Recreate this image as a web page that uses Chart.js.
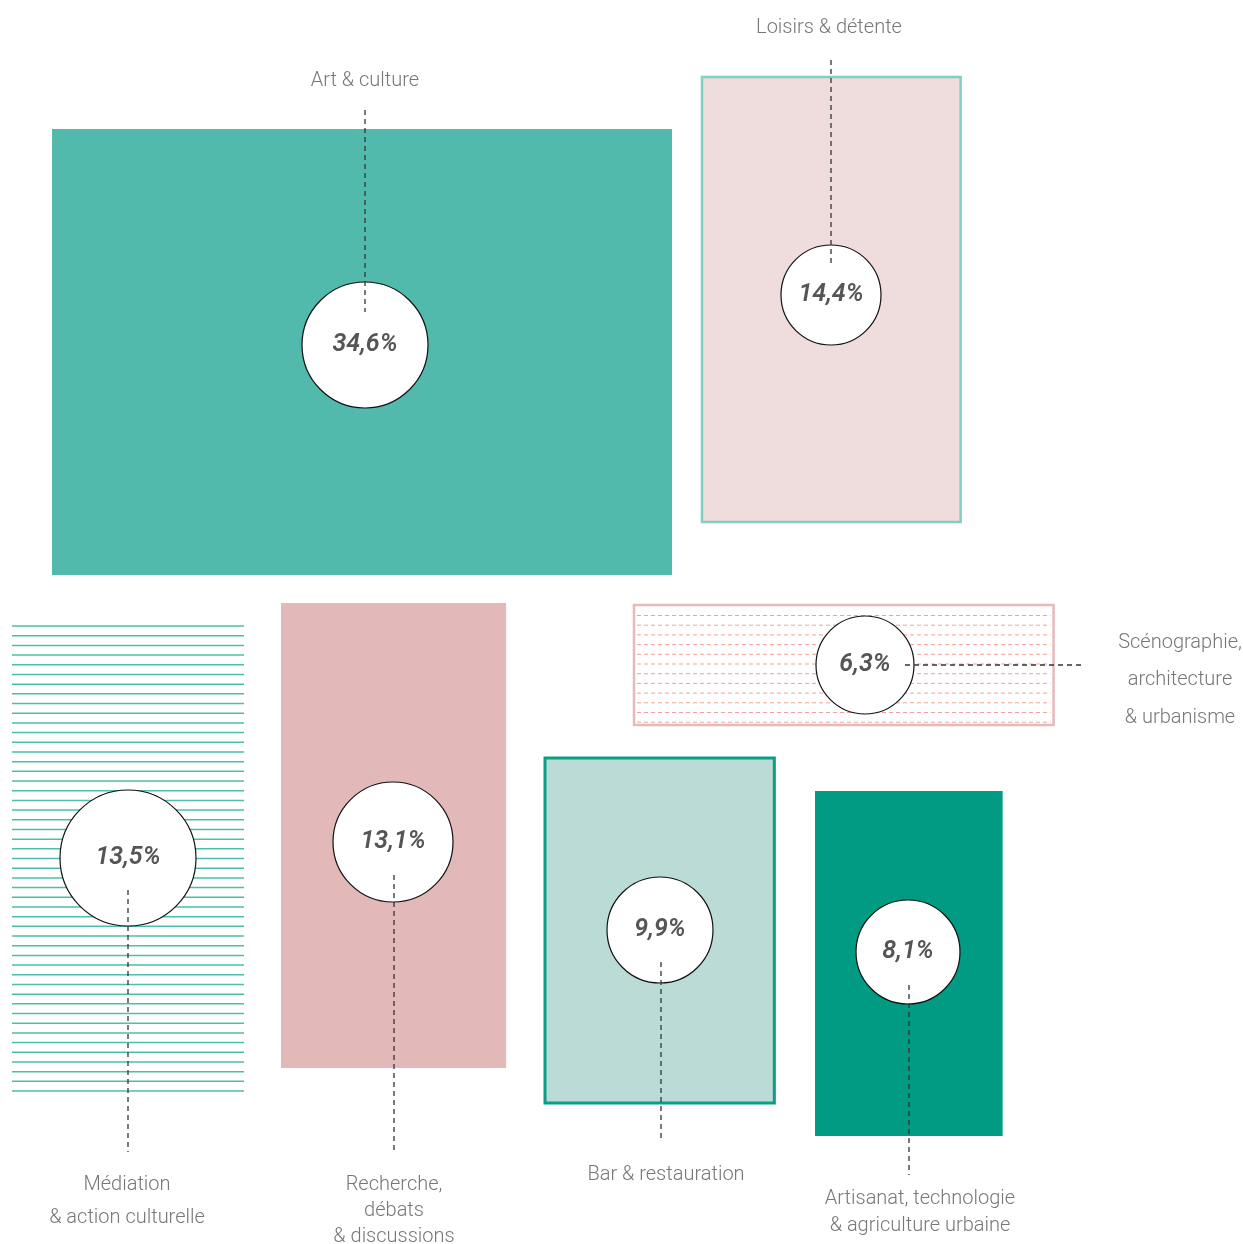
<!DOCTYPE html>
<html>
<head>
<meta charset="utf-8">
<script src="https://cdn.jsdelivr.net/npm/chart.js@4/dist/chart.umd.min.js"></script>
<style>
html,body{margin:0;padding:0;background:#fff;}
#wrap{width:1243px;height:1244px;position:relative;}
</style>
</head>
<body>
<div id="wrap"><canvas id="c"></canvas></div>
<script>
// ---- DATA ----
const categories = ['Art & culture','Loisirs & détente','Scénographie, architecture & urbanisme','Médiation & action culturelle','Recherche, débats & discussions','Bar & restauration','Artisanat, technologie & agriculture urbaine'];
const labelLines = [['Art & culture'],['Loisirs & détente'],['Scénographie,','architecture','& urbanisme'],['Médiation','& action culturelle'],['Recherche,','débats','& discussions'],['Bar & restauration'],['Artisanat, technologie','& agriculture urbaine']];
const shares = [34.6, 14.4, 6.3, 13.5, 13.1, 9.9, 8.1];

// ---- LAYOUT (plot units, 1243 x 1244 frame) ----
const AREA_PER_PCT = 7992;           // rectangle area per percentage point
const rectLeft   = [52, 702, 634, 12, 281, 545, 815];
const rectTop    = [129, 77, 605, 626, 603, 758, 791];
const rectHeight = [446, 445, 120, 465, 465, 345, 345];
const circleX = [365, 831, 865, 128, 393, 660, 908];
const circleY = [345, 295, 665, 858, 842, 930, 952];
const circleR = [63, 50, 49, 68, 60, 53, 52];
const leaders = [[365,110,365,312],[831,60,831,265],[905,665,1083,665],[128,890,128,1152],[394,875,394,1152],[661,962,661,1142],[909,985,909,1175]];
const labelX = [365, 829, 1180, 127, 394, 666, 920];
const labelY = [[79],[26],[641,678,716],[1183,1216],[1183,1209,1235],[1173],[1197,1224]];
const styles = [
  {fill:'#52baad'},
  {fill:'#efdcdd', stroke:'#80cfc1', sw:2.5},
  {fill:'#ffffff', stroke:'#e6b9ba', sw:2.5, dashLines:'#f4a195'},
  {hatch:'#4dbfa9'},
  {fill:'#e2b8b9'},
  {fill:'#badbd6', stroke:'#0a9e85', sw:3},
  {fill:'#009b82'}
];

const rectPlugin = {
  id:'rects',
  beforeDatasetsDraw(chart){
    const ctx = chart.ctx, X = chart.scales.x, Y = chart.scales.y;
    shares.forEach((v,i)=>{
      const w = v*AREA_PER_PCT/rectHeight[i];
      const x0 = X.getPixelForValue(rectLeft[i]), x1 = X.getPixelForValue(rectLeft[i]+w);
      const y0 = Y.getPixelForValue(rectTop[i]), y1 = Y.getPixelForValue(rectTop[i]+rectHeight[i]);
      const s = styles[i];
      ctx.save();
      if (s.fill){ ctx.fillStyle = s.fill; ctx.fillRect(x0,y0,x1-x0,y1-y0); }
      if (s.hatch){
        ctx.strokeStyle = s.hatch; ctx.lineWidth = 1.5;
        const n = 49, step = (y1-y0)/(n-1);
        for(let k=0;k<n;k++){ const yy = y0+k*step; ctx.beginPath(); ctx.moveTo(x0,yy); ctx.lineTo(x1,yy); ctx.stroke(); }
      }
      if (s.dashLines){
        ctx.strokeStyle = s.dashLines; ctx.lineWidth = 1; ctx.setLineDash([4,3]);
        const step = 9.7;
        for(let yy=y0+10.5; yy<y1-1; yy+=step){ ctx.beginPath(); ctx.moveTo(x0+3,yy); ctx.lineTo(x1-3,yy); ctx.stroke(); }
        ctx.setLineDash([]);
      }
      if (s.stroke){ ctx.strokeStyle = s.stroke; ctx.lineWidth = s.sw; ctx.strokeRect(x0,y0,x1-x0,y1-y0); }
      ctx.restore();
    });
  },
  afterDatasetsDraw(chart){
    const ctx = chart.ctx, X = chart.scales.x, Y = chart.scales.y;
    ctx.save();
    // leaders
    ctx.strokeStyle = '#333'; ctx.lineWidth = 1.3; ctx.setLineDash([5,4]);
    leaders.forEach(l=>{
      ctx.beginPath();
      ctx.moveTo(X.getPixelForValue(l[0]), Y.getPixelForValue(l[1]));
      ctx.lineTo(X.getPixelForValue(l[2]), Y.getPixelForValue(l[3]));
      ctx.stroke();
    });
    ctx.setLineDash([]);
    // percentages
    ctx.textAlign = 'center'; ctx.textBaseline = 'middle';
    ctx.fillStyle = '#555';
    ctx.font = 'italic 600 25px Roboto, "DejaVu Sans", sans-serif';
    shares.forEach((v,i)=>{
      const t = v.toFixed(1).replace('.',',')+'%';
      ctx.fillText(t, X.getPixelForValue(circleX[i]), Y.getPixelForValue(circleY[i]));
    });
    // category labels
    ctx.fillStyle = '#777';
    ctx.font = '300 20px Roboto, "DejaVu Sans", sans-serif';
    labelLines.forEach((lines,i)=>{
      lines.forEach((ln,k)=>{
        ctx.fillText(ln, X.getPixelForValue(labelX[i]), Y.getPixelForValue(labelY[i][k]) + 1.5);
      });
    });
    ctx.restore();
  }
};

new Chart(document.getElementById('c'), {
  type:'bubble',
  data:{
    labels: categories,
    datasets:[{
      label:'Part',
      data: shares.map((v,i)=>({x:circleX[i], y:circleY[i], r:circleR[i], v})),
      backgroundColor:'#ffffff',
      borderColor:'#111',
      borderWidth:1.2,
      hoverRadius:0,
      clip:false
    }]
  },
  options:{
    responsive:true, maintainAspectRatio:false, animation:false,
    layout:{padding:0, autoPadding:false},
    plugins:{legend:{display:false}, tooltip:{enabled:false}},
    events:[],
    scales:{
      x:{type:'linear', min:0, max:1243, display:false},
      y:{type:'linear', min:0, max:1244, reverse:true, display:false}
    }
  },
  plugins:[rectPlugin]
});
</script>
</body>
</html>
